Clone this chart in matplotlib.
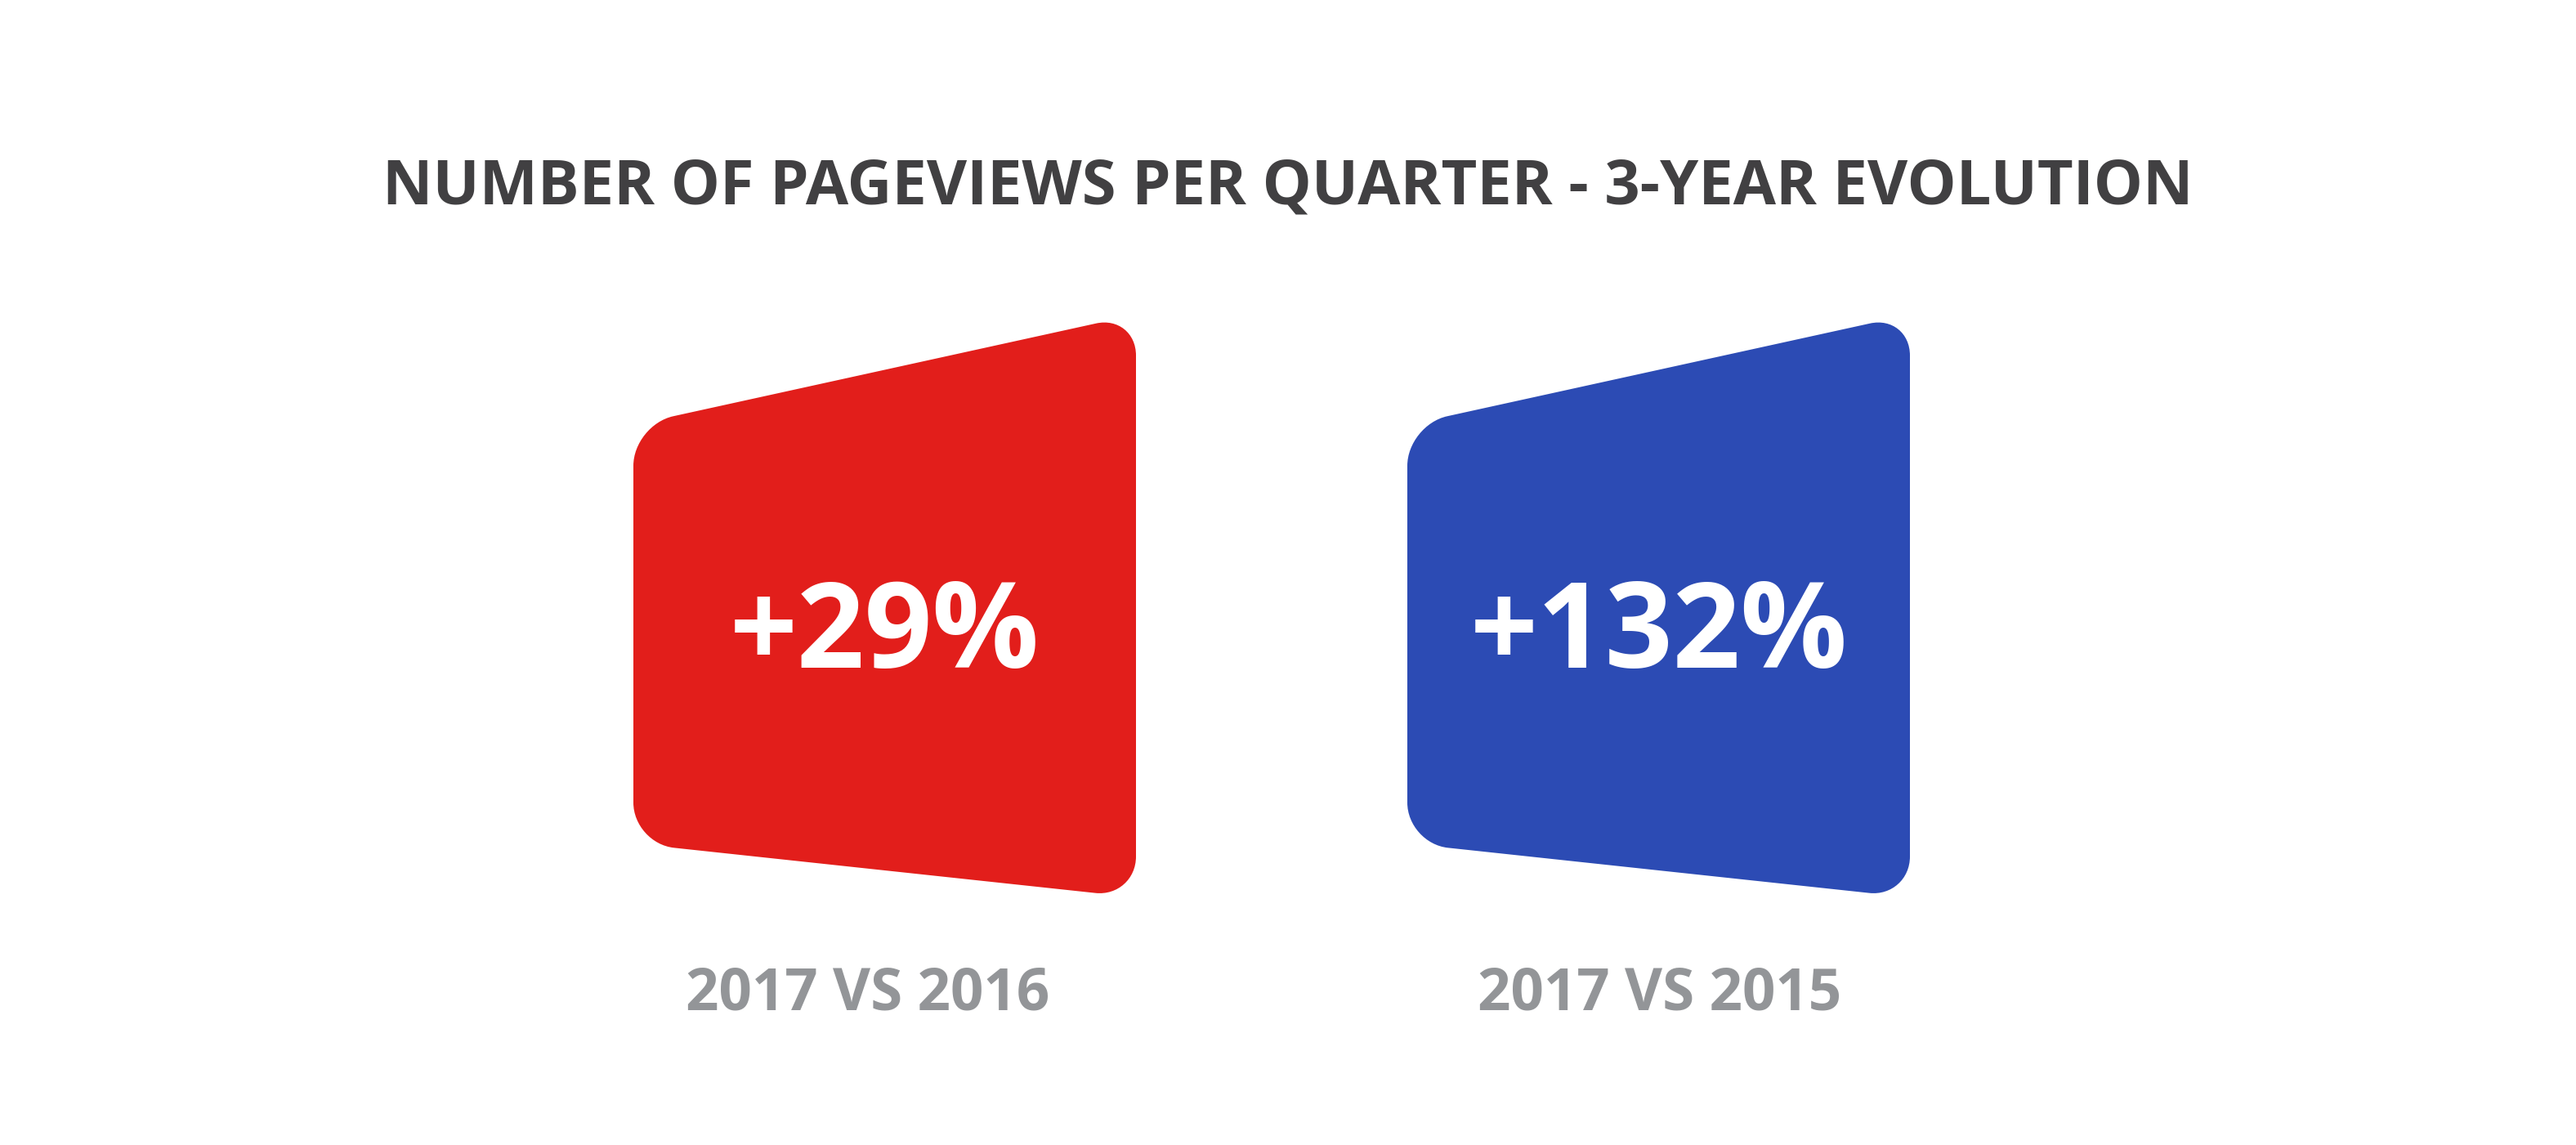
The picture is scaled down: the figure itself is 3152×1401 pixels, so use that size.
import numpy as np
import matplotlib
matplotlib.use("Agg")
import matplotlib.pyplot as plt
from matplotlib.path import Path
from matplotlib.patches import PathPatch

# ── DATA ─────────────────────────────────────────────
title = "NUMBER OF PAGEVIEWS PER QUARTER - 3-YEAR EVOLUTION"
growth_labels = ["+29%", "+132%"]
comparisons = ["2017 VS 2016", "2017 VS 2015"]
colors = ["#E21E1B", "#2C4BB4"]

# ── LAYOUT (pixel coordinates, y grows downward) ─────
W, H = 3152, 1401
left_x = [775, 1722]
width = 615
top_left_y, top_right_y = 520, 385
bot_left_y, bot_right_y = 1032, 1098
radius = 50
label_shift = [-21, 1]
K = 0.55  # bezier factor for near-circular corners


def rounded_quad(x0, x1):
    corners = np.array([[x0, top_left_y], [x1, top_right_y],
                        [x1, bot_right_y], [x0, bot_left_y]], float)
    verts, codes = [], []
    n = len(corners)
    for i in range(n):
        c = corners[i]
        d_in = corners[i - 1] - c
        d_out = corners[(i + 1) % n] - c
        d_in /= np.linalg.norm(d_in)
        d_out /= np.linalg.norm(d_out)
        p_in = c + d_in * radius
        p_out = c + d_out * radius
        verts.append(p_in)
        codes.append(Path.MOVETO if i == 0 else Path.LINETO)
        verts += [p_in + (c - p_in) * K, p_out + (c - p_out) * K, p_out]
        codes += [Path.CURVE4] * 3
    verts.append(verts[0])
    codes.append(Path.CLOSEPOLY)
    return Path(verts, codes)


fig = plt.figure(figsize=(W / 100, H / 100), dpi=100)
ax = fig.add_axes([0, 0, 1, 1])
ax.set_xlim(0, W)
ax.set_ylim(H, 0)
ax.axis("off")

font = "Open Sans"

ax.text(W / 2, 249, title, ha="center", va="baseline", fontsize=54.5,
        fontweight="bold", color="#414042", family=font)

for x0, lab, comp, col, dx in zip(left_x, growth_labels, comparisons,
                                  colors, label_shift):
    x1 = x0 + width
    ax.add_patch(PathPatch(rounded_quad(x0, x1), facecolor=col,
                           edgecolor="none"))
    cx = (x0 + x1) / 2
    ax.text(cx, 817, lab, ha="center", va="baseline", fontsize=104.5,
            fontweight="bold", color="white", family=font)
    ax.text(cx + dx, 1236, comp, ha="center", va="baseline", fontsize=51,
            fontweight="bold", color="#939598", family=font)

fig.savefig("out.png", dpi=100, facecolor="white")
